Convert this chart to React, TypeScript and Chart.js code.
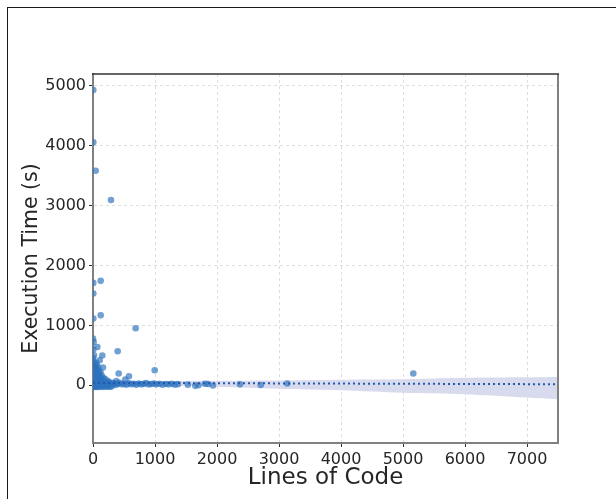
import React, { useEffect, useRef } from "react";
import { Chart, registerables } from "chart.js";

Chart.register(...registerables);

// Outlying runs (lines of code, execution time in s)
const outlierLoc = [5, 5, 43, 290, 124, 5, 5, 124, 5, 688, 398, 995, 414, 580, 521, 376, 5166];
const outlierTime = [4933, 4058, 3584, 3094, 1744, 1710, 1533, 1170, 1115, 953, 568, 250, 195, 150, 95, 72, 195];

// Dense cluster near the origin
const clusterLoc = [
  0, 10, 5, 16, 0, 8, 3, 12, 0, 20, 5, 25, 0, 15, 30, 0, 10, 40, 20, 0, 50, 5, 30, 0, 60,
  70, 108, 150, 161, 45, 60, 80, 55, 90, 120, 70, 100, 140, 60, 110, 170, 80, 200, 130, 160,
  240, 90, 180, 260, 120, 300, 210, 150, 350, 280, 90,
  20, 35, 50, 25, 65, 40, 85, 30, 55, 75, 15, 45, 95, 35, 70,
];
const clusterTime = [
  780, 724, 597, 500, 450, 400, 350, 320, 290, 260, 230, 200, 180, 160, 140, 120, 100, 90, 70, 60, 50, 30, 20, 10, 40,
  640, 418, 496, 296, 380, 340, 300, 270, 240, 220, 200, 180, 160, 150, 130, 120, 110, 100, 90, 80,
  70, 60, 50, 45, 35, 40, 30, 25, 30, 20, 15,
  340, 300, 250, 220, 190, 170, 150, 130, 110, 95, 80, 65, 55, 45, 35,
];

// Runs lying along zero
const baseLoc = [
  0, 20, 40, 60, 80, 100, 130, 160, 190, 220, 250, 280, 310, 340, 370, 400, 430, 460, 500, 540,
  580, 620, 660, 700, 740, 780, 820, 860, 900, 940, 980, 1020, 1070, 1120, 1170, 1220, 1270, 1320, 1370,
  10, 30, 50, 70, 90, 120, 150, 180, 210, 240, 270, 300,
  1530, 1650, 1700, 1806, 1855, 1935, 2370, 2704, 3134,
];
const baseTime = [
  10, 25, 5, 30, 15, 20, 0, 28, 12, 35, 8, 22, 18, 30, 5, 25, 40, 15, 20, 10,
  32, 18, 25, 10, 30, 15, 22, 38, 12, 20, 28, 15, 25, 10, 20, 15, 25, 10, 18,
  -25, -28, -20, -30, -25, -22, -28, -18, -25, -20, -26, -22,
  10, -10, 0, 25, 20, -5, 15, 5, 30,
];

// Fitted trend line and its confidence band
const fitLoc = [0, 7500];
const fitTime = [40, 17];
const bandLoc = [0, 1000, 2000, 3000, 4000, 5000, 6000, 7000, 7500];
const bandUpper = [75, 72, 76, 80, 92, 100, 125, 133, 139];
const bandLower = [10, 0, -25, -58, -84, -125, -150, -205, -234];

const xTicks = [0, 1000, 2000, 3000, 4000, 5000, 6000, 7000];
const yTicks = [0, 1000, 2000, 3000, 4000, 5000];

const toPts = (xs: number[], ys: number[]) => xs.map((x, i) => ({ x, y: ys[i] }));

const FONT = "'DejaVu Sans', sans-serif";
const TEXT = "#262626";

export default function App() {
  const ref = useRef<HTMLCanvasElement>(null);
  useEffect(() => {
    if (!ref.current) return;
    const spines = {
      id: "spines",
      afterDraw(chart: any) {
        const { ctx, chartArea: a } = chart;
        ctx.save();
        ctx.strokeStyle = "#808080";
        ctx.lineWidth = 2;
        ctx.beginPath();
        ctx.moveTo(a.right, a.top);
        ctx.lineTo(a.right, a.bottom + 1);
        ctx.stroke();
        ctx.strokeStyle = "#333333";
        ctx.lineWidth = 1.5;
        ctx.beginPath();
        ctx.moveTo(a.left - 1, a.top);
        ctx.lineTo(a.right + 1, a.top);
        ctx.stroke();
        ctx.restore();
      },
    };
    const points = [
      ...toPts(outlierLoc, outlierTime),
      ...toPts(clusterLoc, clusterTime),
      ...toPts(baseLoc, baseTime),
    ];
    const gridOpts: any = {
      color: "#dedede",
      tickColor: "#333333",
      tickLength: 4,
      tickBorderDash: [],
    };
    const chart = new Chart(ref.current, {
      type: "scatter",
      data: {
        datasets: [
          {
            type: "line",
            data: toPts(fitLoc, fitTime),
            borderColor: "rgb(30,90,175)",
            borderWidth: 2,
            borderDash: [2, 3],
            pointRadius: 0,
            fill: false,
          } as any,
          {
            data: points,
            backgroundColor: "rgba(45,115,190,0.68)",
            borderWidth: 0,
            pointRadius: 3.3,
          },
          {
            type: "line",
            data: toPts(bandLoc, bandUpper),
            borderWidth: 0,
            pointRadius: 0,
            backgroundColor: "rgb(216,218,238)",
            fill: "+1",
            tension: 0.3,
          } as any,
          {
            type: "line",
            data: toPts(bandLoc, bandLower),
            borderWidth: 0,
            pointRadius: 0,
            fill: false,
            tension: 0.3,
          } as any,
        ],
      },
      options: {
        animation: false,
        responsive: false,
        layout: { padding: { left: 0, right: 58, top: 66, bottom: 0 } },
        plugins: { legend: { display: false }, tooltip: { enabled: false } },
        scales: {
          x: {
            type: "linear",
            min: 0,
            max: 7500,
            afterBuildTicks: (s: any) => {
              s.ticks = xTicks.map((v) => ({ value: v }));
            },
            afterFit: (s: any) => {
              s.height = 56;
            },
            ticks: {
              font: { family: FONT, size: 16 },
              color: TEXT,
              padding: 3,
              maxRotation: 0,
              callback: (v: any) => String(v),
            },
            grid: gridOpts,
            border: { color: "#808080", width: 2, dash: [3, 3] } as any,
            title: {
              display: true,
              text: "Lines of Code",
              font: { family: FONT, size: 23 },
              color: TEXT,
              padding: { top: 0, bottom: 7 },
            },
          },
          y: {
            type: "linear",
            min: -965,
            max: 5200,
            afterBuildTicks: (s: any) => {
              s.ticks = yTicks.map((v) => ({ value: v }));
            },
            afterFit: (s: any) => {
              s.width = 85;
            },
            ticks: {
              font: { family: FONT, size: 16 },
              color: TEXT,
              padding: 3,
              callback: (v: any) => String(v),
            },
            grid: gridOpts,
            border: { color: "#808080", width: 2, dash: [3, 3] } as any,
            title: {
              display: true,
              text: "Execution Time (s)",
              font: { family: FONT, size: 20.5 },
              color: TEXT,
              padding: { top: 11, bottom: 0 },
            },
          },
        },
      },
      plugins: [spines],
    });
    return () => chart.destroy();
  }, []);
  return (
    <div
      style={{
        position: "absolute",
        left: 7,
        top: 7,
        width: 608,
        height: 491,
        borderLeft: "1px solid #1a1a1a",
        borderTop: "1px solid #1a1a1a",
        background: "#fff",
      }}
    >
      <canvas ref={ref} width={608} height={491} style={{ display: "block" }} />
    </div>
  );
}
